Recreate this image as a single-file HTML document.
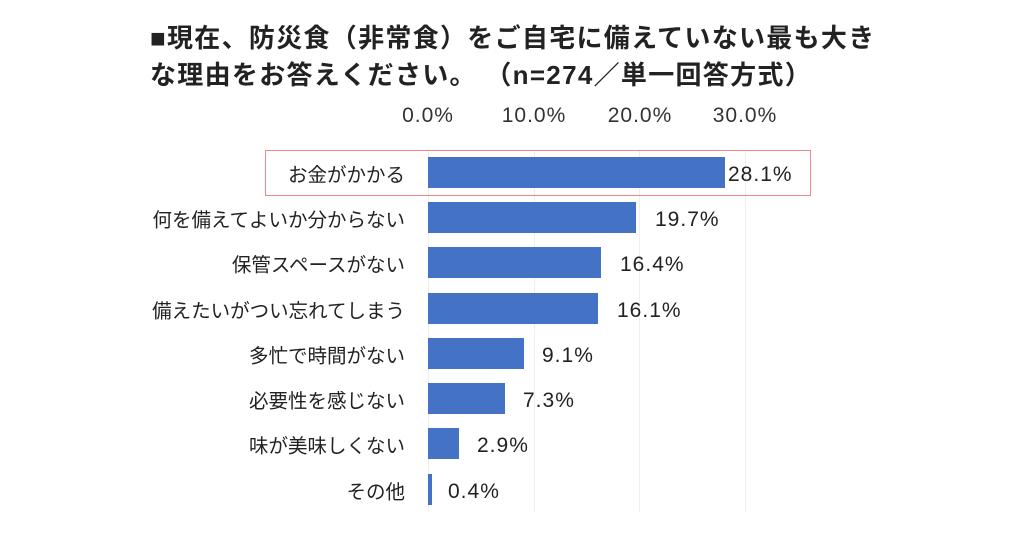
<!DOCTYPE html>
<html><head><meta charset="utf-8"><style>
body{margin:0;width:1024px;height:536px;background:#fff;overflow:hidden;position:relative;font-family:"Liberation Sans","Noto Sans CJK JP",sans-serif;color:#222}
.t{position:absolute;left:150px;font-size:26px;font-weight:bold;white-space:nowrap;letter-spacing:1.3px}
.tick{position:absolute;top:104px;font-size:21px;transform:translateX(-50%);color:#333;letter-spacing:1px}
.g{position:absolute;top:150px;width:1px;height:362px;background:#eee}
.bar{position:absolute;left:428px;height:31px;background:#4472c4}
.lab{position:absolute;right:619px;font-size:19.5px;white-space:nowrap;transform:translateY(-50%)}
.val{position:absolute;font-size:21px;transform:translateY(-50%);letter-spacing:1px}
</style></head><body>
<div class="t" style="top:18px">■現在、防災食（非常食）をご自宅に備えていない最も大き</div>
<div class="t" style="top:55px">な理由をお答えください。 （n=274／単一回答方式）</div>
<div class="tick" style="left:428px">0.0%</div>
<div class="tick" style="left:534px">10.0%</div>
<div class="tick" style="left:640px">20.0%</div>
<div class="tick" style="left:745px">30.0%</div>
<div class="g" style="left:428px"></div><div class="g" style="left:534px"></div><div class="g" style="left:639px"></div><div class="g" style="left:745px"></div>
<div style="position:absolute;left:265px;top:150px;width:546px;height:46px;border:1.5px solid #e88;box-sizing:border-box"></div>
<div class="bar" style="top:157px;width:297px"></div><div class="lab" style="top:173px">お金がかかる</div><div class="val" style="left:728px;top:175px">28.1%</div>
<div class="bar" style="top:202px;width:208px"></div><div class="lab" style="top:218px">何を備えてよいか分からない</div><div class="val" style="left:655px;top:220px">19.7%</div>
<div class="bar" style="top:247px;width:173px"></div><div class="lab" style="top:263px">保管スペースがない</div><div class="val" style="left:620px;top:265px">16.4%</div>
<div class="bar" style="top:293px;width:170px"></div><div class="lab" style="top:309px">備えたいがつい忘れてしまう</div><div class="val" style="left:617px;top:311px">16.1%</div>
<div class="bar" style="top:338px;width:96px"></div><div class="lab" style="top:354px">多忙で時間がない</div><div class="val" style="left:542px;top:356px">9.1%</div>
<div class="bar" style="top:383px;width:77px"></div><div class="lab" style="top:399px">必要性を感じない</div><div class="val" style="left:523px;top:401px">7.3%</div>
<div class="bar" style="top:428px;width:31px"></div><div class="lab" style="top:444px">味が美味しくない</div><div class="val" style="left:477px;top:446px">2.9%</div>
<div class="bar" style="top:474px;width:4px"></div><div class="lab" style="top:490px">その他</div><div class="val" style="left:448px;top:492px">0.4%</div>
</body></html>
